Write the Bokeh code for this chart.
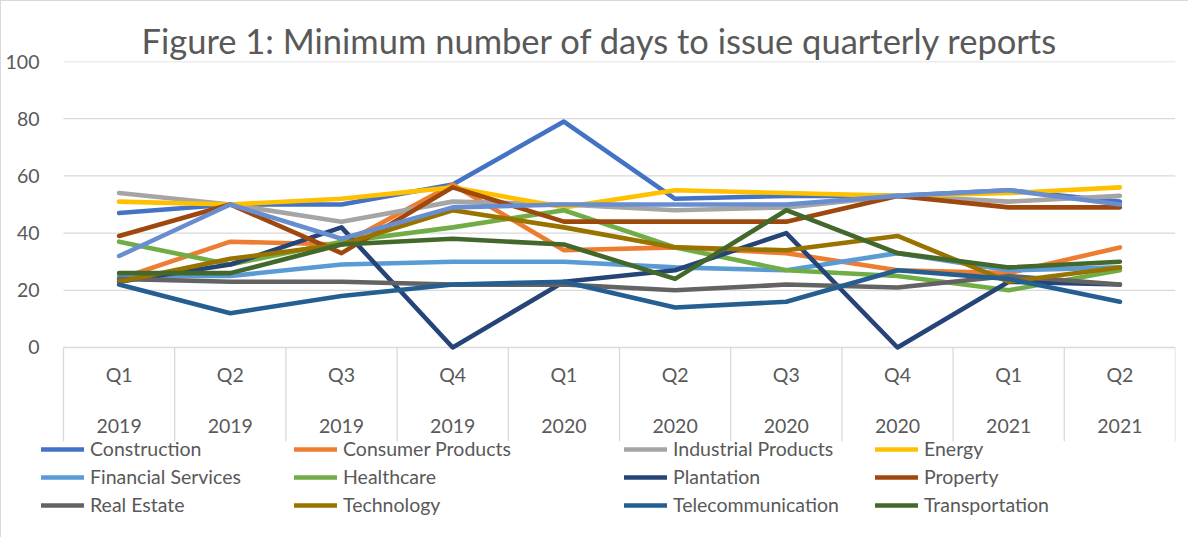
import numpy as np
from bokeh.plotting import figure
from bokeh.models import Range1d, FixedTicker, Legend, LegendItem, ColumnDataSource
from bokeh.embed import file_html
from bokeh.resources import INLINE

# ---------------- data ----------------
quarters = ["Q1", "Q2", "Q3", "Q4", "Q1", "Q2", "Q3", "Q4", "Q1", "Q2"]
years = ["2019", "2019", "2019", "2019", "2020", "2020", "2020", "2020", "2021", "2021"]
y_ticks = [0, 20, 40, 60, 80, 100]

construction = [47, 50, 50, 57, 79, 52, 53, 53, 55, 51]
consumer_products = [24, 37, 36, 57, 34, 35, 33, 27, 26, 35]
industrial_products = [54, 50, 44, 51, 50, 48, 49, 53, 51, 53]
energy = [51, 50, 52, 56, 49, 55, 54, 53, 54, 56]
financial_services = [25, 25, 29, 30, 30, 28, 27, 33, 27, 28]
healthcare = [37, 29, 37, 42, 48, 35, 27, 25, 20, 27]
plantation = [23, 29, 42, 0, 23, 27, 40, 0, 23, 22]
property_ = [39, 50, 33, 56, 44, 44, 44, 53, 49, 49]
real_estate = [24, 23, 23, 22, 22, 20, 22, 21, 25, 22]
technology = [23, 31, 36, 48, 42, 35, 34, 39, 23, 28]
telecommunication = [22, 12, 18, 22, 23, 14, 16, 27, 24, 16]
transportation = [26, 26, 36, 38, 36, 24, 48, 33, 28, 30]
unlabelled_series = [32, 50, 38, 49, 50, 50, 50, 53, 55, 50]

series = [
    ("Construction", construction, "#4472C4"),
    ("Consumer Products", consumer_products, "#ED7D31"),
    ("Industrial Products", industrial_products, "#A5A5A5"),
    ("Energy", energy, "#FFC000"),
    ("Financial Services", financial_services, "#5B9BD5"),
    ("Healthcare", healthcare, "#70AD47"),
    ("Plantation", plantation, "#264478"),
    ("Property", property_, "#9E480E"),
    ("Real Estate", real_estate, "#636363"),
    ("Technology", technology, "#997300"),
    ("Telecommunication", telecommunication, "#255E91"),
    ("Transportation", transportation, "#43682B"),
    (None, unlabelled_series, "#698ED0"),
]

FONT = "Lato"
TXT = "#595959"
GRID = "#D9D9D9"

n = len(quarters)
x_idx = np.arange(1, n + 1)

# frame starts a little left of the category area so the legend fits in it
px_per_cat = (1174 - 62) / n
left_pad = (62 - 38) / px_per_cat

p = figure(width=1188, height=537, output_backend="svg", toolbar_location=None,
           x_range=Range1d(0.5 - left_pad, n + 0.5), y_range=Range1d(-63.29, 100),
           x_axis_location=None,
           min_border_left=38, min_border_right=14, min_border_top=60, min_border_bottom=10)
p.styles = {"border-top": "1px solid #D9D9D9", "border-left": "1px solid #D9D9D9"}
p.outline_line_color = None
p.background_fill_color = "white"
p.border_fill_color = "white"

# title
p.title.text = "Figure 1: Minimum number of days to issue quarterly reports"
p.title.text_font = FONT
p.title.text_font_size = "34.5px"
p.title.text_font_style = "normal"
p.title.text_color = TXT
p.title.align = "left"
p.title.offset = 102
p.title.standoff = 2

# y axis
p.yaxis.ticker = FixedTicker(ticks=y_ticks)
p.yaxis.axis_line_color = None
p.yaxis.major_tick_line_color = None
p.yaxis.minor_tick_line_color = None
p.yaxis.major_tick_out = 0
p.yaxis.major_tick_in = 0
p.yaxis.major_label_standoff = 0
p.yaxis.major_label_text_font = FONT
p.yaxis.major_label_text_font_size = "19.5px"
p.yaxis.major_label_text_color = TXT
p.ygrid.visible = False
p.xgrid.visible = False

# horizontal gridlines across the category area
p.segment(x0=0.5, y0=y_ticks, x1=n + 0.5, y1=y_ticks, line_color=GRID, line_width=1.3)

# category axis separators and labels
bounds = np.arange(n + 1) + 0.5
p.segment(x0=bounds, y0=0, x1=bounds, y1=-32.8, line_color=GRID, line_width=1.3)
cat_src = ColumnDataSource(dict(x=x_idx, q=quarters, yr=years))
p.text(x="x", y=-9.6, text="q", source=cat_src, text_align="center", text_baseline="middle",
       text_font={"value": FONT}, text_font_size="19.5px", text_color=TXT)
p.text(x="x", y=-27.4, text="yr", source=cat_src, text_align="center", text_baseline="middle",
       text_font={"value": FONT}, text_font_size="19.5px", text_color=TXT)

# lines
renderers = {}
for name, vals, color in series:
    r = p.line(x_idx, vals, line_color=color, line_width=4.6, line_cap="round", line_join="round")
    if name:
        renderers[name] = r

# legend in 4 columns
cols = [
    ["Construction", "Financial Services", "Real Estate"],
    ["Consumer Products", "Healthcare", "Technology"],
    ["Industrial Products", "Plantation", "Telecommunication"],
    ["Energy", "Property", "Transportation"],
]
col_x = [2, 255, 585, 836]
for cx, names in zip(col_x, cols):
    items = [LegendItem(label=nm, renderers=[renderers[nm]]) for nm in names]
    leg = Legend(items=items, location=(cx, 12), orientation="vertical",
                 glyph_width=43, glyph_height=20, label_height=20, label_width=10,
                 spacing=5, label_standoff=6, padding=0, margin=0,
                 border_line_color=None, background_fill_alpha=0,
                 label_text_font=FONT, label_text_font_size="19.5px", label_text_color=TXT)
    p.add_layout(leg, "center")

open("out.html", "w").write(file_html(p, INLINE))
